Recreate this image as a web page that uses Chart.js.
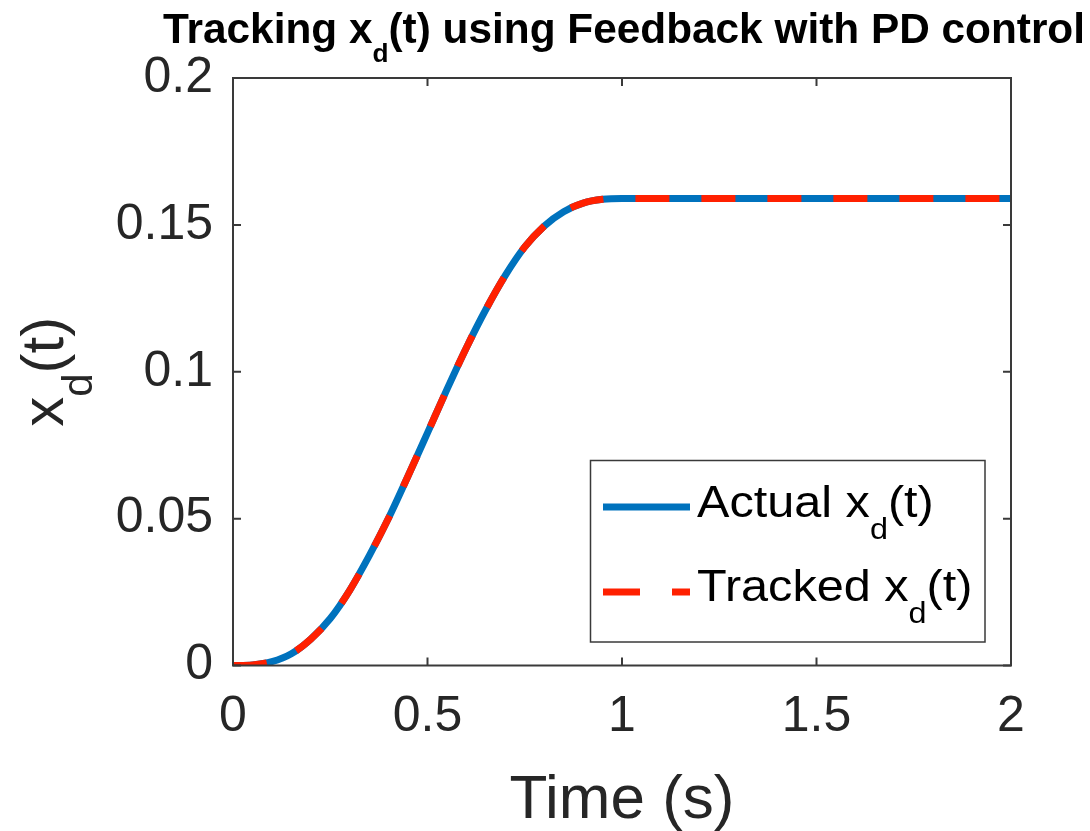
<!DOCTYPE html>
<html>
<head>
<meta charset="utf-8">
<script src="https://cdn.jsdelivr.net/npm/chart.js@4/dist/chart.umd.min.js"></script>
<style>
  html, body { margin: 0; padding: 0; background: #fff; }
  #wrap { width: 1090px; height: 831px; }
</style>
</head>
<body>
<div id="wrap"><canvas id="c" width="1090" height="831"></canvas></div>
<script>
// ---- data ----
const timeValues = [0, 0.05, 0.1, 0.15, 0.2, 0.25, 0.3, 0.35, 0.4, 0.45, 0.5, 0.55, 0.6, 0.65, 0.7, 0.75, 0.8, 0.85, 0.9, 0.95, 1.0, 1.5, 2.0];
const actualValues = [0, 0.0002, 0.0013, 0.0040, 0.0090, 0.0160, 0.0256, 0.0373, 0.0502, 0.0645, 0.0792, 0.0940, 0.1082, 0.1212, 0.1328, 0.1425, 0.1496, 0.1545, 0.1574, 0.1587, 0.159, 0.159, 0.159];
const trackedValues = [0, 0.0002, 0.0013, 0.0040, 0.0090, 0.0160, 0.0256, 0.0373, 0.0502, 0.0645, 0.0792, 0.0940, 0.1082, 0.1212, 0.1328, 0.1425, 0.1496, 0.1545, 0.1574, 0.1587, 0.159, 0.159, 0.159];
const xTicks = [0, 0.5, 1, 1.5, 2];
const xTickLabels = ['0', '0.5', '1', '1.5', '2'];
const yTicks = [0, 0.05, 0.1, 0.15, 0.2];
const yTickLabels = ['0', '0.05', '0.1', '0.15', '0.2'];
const titleParts = ['Tracking x', 'd', '(t) using Feedback with PD control'];
const xAxisTitle = 'Time (s)';
const yAxisParts = ['x', 'd', '(t)'];
const legendEntries = [['Actual x', 'd', '(t)'], ['Tracked x', 'd', '(t)']];

const BLUE = '#0072BD';
const RED = 'rgb(255,32,0)';
const AXIS = '#3a3a3a';
const TEXT = '#262626';
const FONT = '"Liberation Sans", Arial, Helvetica, sans-serif';

function drawSubText(ctx, parts, x, y, mainFont, subFont, subShift) {
  let cx = x;
  parts.forEach((p, i) => {
    const isSub = i % 2 === 1;
    ctx.font = isSub ? subFont : mainFont;
    ctx.fillText(p, cx, isSub ? y + subShift : y);
    cx += ctx.measureText(p).width;
  });
  return cx - x;
}
function measureSubText(ctx, parts, mainFont, subFont) {
  let w = 0;
  parts.forEach((p, i) => {
    ctx.font = (i % 2 === 1) ? subFont : mainFont;
    w += ctx.measureText(p).width;
  });
  return w;
}

const decorPlugin = {
  id: 'decor',
  afterDraw(chart) {
    const ctx = chart.ctx;
    const a = chart.chartArea;
    const xs = chart.scales.x, ys = chart.scales.y;
    ctx.save();
    // box
    ctx.strokeStyle = AXIS;
    ctx.lineWidth = 2;
    ctx.strokeRect(a.left, a.top, a.right - a.left, a.bottom - a.top);
    // inward ticks
    const tl = 8;
    ctx.beginPath();
    xTicks.forEach(v => {
      const px = xs.getPixelForValue(v);
      ctx.moveTo(px, a.bottom); ctx.lineTo(px, a.bottom - tl);
      ctx.moveTo(px, a.top); ctx.lineTo(px, a.top + tl);
    });
    yTicks.forEach(v => {
      const py = ys.getPixelForValue(v);
      ctx.moveTo(a.left, py); ctx.lineTo(a.left + tl, py);
      ctx.moveTo(a.right, py); ctx.lineTo(a.right - tl, py);
    });
    ctx.stroke();

    // title (bold, condensed to fit)
    ctx.fillStyle = '#000';
    ctx.textBaseline = 'alphabetic';
    ctx.textAlign = 'left';
    const tMain = 'bold 42px ' + FONT, tSub = 'bold 26px ' + FONT;
    const tw = measureSubText(ctx, titleParts, tMain, tSub);
    const targetW = 922;
    ctx.save();
    ctx.translate(163, 43);
    ctx.scale(targetW / tw, 1);
    drawSubText(ctx, titleParts, 0, 0, tMain, tSub, 19);
    ctx.restore();

    // x axis title
    ctx.fillStyle = TEXT;
    ctx.font = '62px ' + FONT;
    ctx.textAlign = 'center';
    ctx.fillText(xAxisTitle, (a.left + a.right) / 2, 818);

    // y axis title (rotated)
    ctx.textAlign = 'left';
    const yMain = '60px ' + FONT, ySub = '42px ' + FONT;
    const yw = measureSubText(ctx, yAxisParts, yMain, ySub);
    ctx.save();
    ctx.translate(63, (a.top + a.bottom) / 2);
    ctx.rotate(-Math.PI / 2);
    drawSubText(ctx, yAxisParts, -yw / 2, 0, yMain, ySub, 29);
    ctx.restore();

    // legend
    const lx0 = 590.5, ly0 = 460.5, lx1 = 985, ly1 = 642;
    ctx.fillStyle = '#fff';
    ctx.fillRect(lx0, ly0, lx1 - lx0, ly1 - ly0);
    ctx.strokeStyle = AXIS;
    ctx.lineWidth = 1.5;
    ctx.strokeRect(lx0, ly0, lx1 - lx0, ly1 - ly0);
    const rows = [
      { y: 507, base: 517, color: BLUE, dash: [] },
      { y: 592, base: 601, color: RED, dash: [37, 32] }
    ];
    rows.forEach((r, i) => {
      ctx.beginPath();
      ctx.setLineDash(r.dash);
      ctx.strokeStyle = r.color;
      ctx.lineWidth = 7;
      ctx.moveTo(603, r.y); ctx.lineTo(690, r.y);
      ctx.stroke();
      ctx.setLineDash([]);
      ctx.fillStyle = '#000';
      ctx.save();
      ctx.translate(697, r.base);
      ctx.scale(1.08, 1);
      drawSubText(ctx, legendEntries[i], 0, 0, '45px ' + FONT, '30px ' + FONT, 22);
      ctx.restore();
    });
    ctx.restore();
  }
};

const ctx = document.getElementById('c').getContext('2d');
new Chart(ctx, {
  type: 'line',
  data: {
    datasets: [
      {
        label: 'Tracked',
        data: timeValues.map((t, i) => ({ x: t, y: trackedValues[i] })),
        borderColor: RED,
        borderWidth: 7,
        borderDash: [34, 32],
        borderCapStyle: 'butt',
        pointRadius: 0,
        fill: false,
        cubicInterpolationMode: 'monotone',
        order: 0
      },
      {
        label: 'Actual',
        data: timeValues.map((t, i) => ({ x: t, y: actualValues[i] })),
        borderColor: BLUE,
        borderWidth: 7,
        pointRadius: 0,
        fill: false,
        cubicInterpolationMode: 'monotone',
        order: 1
      }
    ]
  },
  options: {
    responsive: false,
    animation: false,
    events: [],
    layout: { padding: { left: 0, right: 79, top: 78, bottom: 0 } },
    plugins: { legend: { display: false }, title: { display: false }, tooltip: { enabled: false } },
    scales: {
      x: {
        type: 'linear',
        min: 0, max: 2,
        afterBuildTicks(s) { s.ticks = xTicks.map(v => ({ value: v })); },
        afterFit(s) { s.height = 831 - 665.5; },
        grid: { display: false, drawTicks: false },
        border: { display: false },
        ticks: {
          color: TEXT,
          font: { family: FONT, size: 50 },
          padding: 22,
          maxRotation: 0,
          autoSkip: false,
          callback(v) { const i = xTicks.indexOf(v); return i >= 0 ? xTickLabels[i] : ''; }
        }
      },
      y: {
        type: 'linear',
        min: 0, max: 0.2,
        afterBuildTicks(s) { s.ticks = yTicks.map(v => ({ value: v })); },
        afterFit(s) { s.width = 233; },
        grid: { display: false, drawTicks: false },
        border: { display: false },
        ticks: {
          color: TEXT,
          font: { family: FONT, size: 50 },
          padding: 20,
          autoSkip: false,
          callback(v) { const i = yTicks.indexOf(v); return i >= 0 ? yTickLabels[i] : ''; }
        }
      }
    }
  },
  plugins: [decorPlugin]
});
</script>
</body>
</html>
